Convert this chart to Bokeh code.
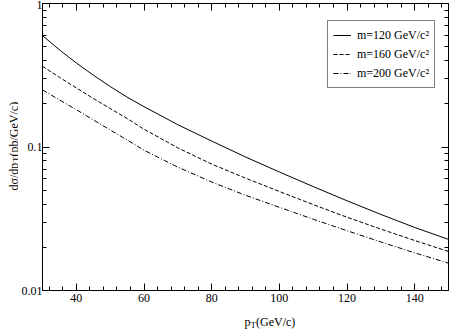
import math
from bokeh.plotting import figure
from bokeh.layouts import row, column
from bokeh.models import (FixedTicker, LinearAxis, LogAxis, Label, Legend, LegendItem,
                          Range1d)
from bokeh.embed import file_html
from bokeh.resources import INLINE

# ---- data ----
pt = [30, 35, 40, 45, 50, 55, 60, 70, 80, 90, 100, 110, 120, 130, 140, 150]
m120 = [0.597, 0.476, 0.385, 0.317, 0.264, 0.2226, 0.191, 0.143, 0.11, 0.0852, 0.067, 0.053, 0.0422, 0.0339, 0.0275, 0.0227]
m160 = [0.365, 0.306, 0.258, 0.218, 0.1854, 0.158, 0.133, 0.0986, 0.076, 0.0607, 0.049, 0.0397, 0.0324, 0.0268, 0.0223, 0.0187]
m200 = [0.25, 0.213, 0.182, 0.1545, 0.1315, 0.112, 0.095, 0.0724, 0.057, 0.0461, 0.038, 0.0314, 0.0261, 0.0218, 0.0183, 0.0155]
labels = ["m=120 GeV/c\u00b2", "m=160 GeV/c\u00b2", "m=200 GeV/c\u00b2"]

x_major = [40, 60, 80, 100, 120, 140]
x_minor = list(range(32, 150, 4))
y_major = [0.01, 0.1, 1]
y_minor = [m * d for d in (0.01, 0.1) for m in range(2, 10)]

FONT = "Liberation Serif"


def bare(fig):
    fig.grid.visible = False
    fig.outline_line_color = None
    fig.background_fill_color = "white"
    fig.border_fill_color = "white"
    return fig


# ---- main plot ----
p = figure(width=431, height=308, y_axis_type="log", output_backend="svg",
           toolbar_location=None, x_range=Range1d(30, 150), y_range=Range1d(0.01, 1),
           min_border_left=21, min_border_right=1, min_border_top=3, min_border_bottom=18,
           x_axis_location=None, y_axis_location=None)
p.grid.visible = False
p.outline_line_color = "black"
p.outline_line_width = 1
p.background_fill_color = "white"
p.border_fill_color = "white"


def style(ax, show_labels):
    ax.major_tick_in = 7
    ax.major_tick_out = 0
    ax.minor_tick_in = 4
    ax.minor_tick_out = 0
    ax.axis_line_color = "black"
    ax.major_tick_line_color = "black"
    ax.minor_tick_line_color = "black"
    ax.major_label_text_font = FONT
    ax.major_label_text_color = "black"
    ax.major_label_text_font_size = "12px"
    if show_labels:
        ax.major_label_standoff = 0
    else:
        ax.major_label_standoff = 0
        ax.major_label_text_color = None


xt = FixedTicker(ticks=x_major, minor_ticks=x_minor)
yt = FixedTicker(ticks=y_major, minor_ticks=y_minor)

xb = LinearAxis(ticker=xt); style(xb, True)
xb.major_label_standoff = 3
xa = LinearAxis(ticker=xt); style(xa, False)
yl = LogAxis(ticker=yt); style(yl, True)
yr = LogAxis(ticker=yt); style(yr, False)
yl.major_label_overrides = {0.01: "0.01", 0.1: "0.1", 1: "1"}
xa.major_label_overrides = {v: "" for v in x_major}
yr.major_label_overrides = {0.01: "", 0.1: "", 1: ""}
p.add_layout(xb, "below")
p.add_layout(xa, "above")
p.add_layout(yl, "left")
p.add_layout(yr, "right")

r1 = p.line(pt, m120, line_color="black", line_width=1)
r2 = p.line(pt, m160, line_color="black", line_width=1, line_dash="4 2")
r3 = p.line(pt, m200, line_color="black", line_width=1, line_dash="5 2 1 2")

legend = Legend(items=[LegendItem(label=labels[0], renderers=[r1]),
                       LegendItem(label=labels[1], renderers=[r2]),
                       LegendItem(label=labels[2], renderers=[r3])],
                location=(285, 202))
legend.border_line_color = "black"
legend.border_line_width = 1
legend.background_fill_color = "white"
legend.background_fill_alpha = 1
legend.label_text_font = FONT
legend.label_text_font_size = "12px"
legend.label_text_color = "black"
legend.glyph_width = 18
legend.glyph_height = 18
legend.label_height = 18
legend.spacing = 1
legend.padding = 5
legend.margin = 0
legend.label_standoff = 6
p.add_layout(legend, "center")

lab = dict(x_units="screen", y_units="screen", text_font=FONT, text_color="black",
           text_baseline="alphabetic")

# ---- y axis title strip (left) ----
ly = bare(figure(width=18, height=329, output_backend="svg", toolbar_location=None,
                 min_border=0, x_axis_location=None, y_axis_location=None,
                 x_range=Range1d(0, 1), y_range=Range1d(0, 1)))
rot = math.pi / 2
ly.add_layout(Label(x=13, y=139, text="d\u03c3/dp", angle=rot, text_font_size="12px", **lab))
ly.add_layout(Label(x=15.5, y=167.5, text="T", angle=rot, text_font_size="9px", **lab))
ly.add_layout(Label(x=13, y=173, text="(pb/GeV/c)", angle=rot, text_font_size="12px", **lab))

# ---- x axis title strip (bottom) ----
lx = bare(figure(width=431, height=21, output_backend="svg", toolbar_location=None,
                 min_border=0, x_axis_location=None, y_axis_location=None,
                 x_range=Range1d(0, 1), y_range=Range1d(0, 1)))
lx.add_layout(Label(x=202, y=8, text="p", text_font_size="12px", **lab))
lx.add_layout(Label(x=208, y=5, text="T", text_font_size="9px", **lab))
lx.add_layout(Label(x=213.5, y=8, text="(GeV/c)", text_font_size="12px", **lab))

layout = row(ly, column(p, lx, spacing=0), spacing=0)
open("out.html", "w").write(file_html(layout, INLINE))
